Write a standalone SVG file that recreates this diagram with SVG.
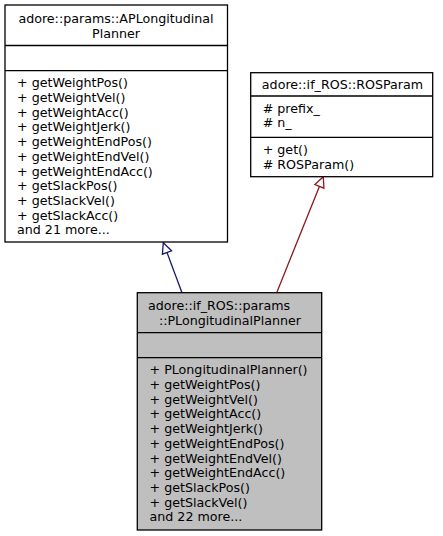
<svg xmlns="http://www.w3.org/2000/svg" width="443" height="536" viewBox="0 0 443 536">
<style>
text{font-family:"DejaVu Sans","Liberation Sans",sans-serif;font-size:12.67px;fill:#000}
.box{fill:#fff;stroke:#000;stroke-width:1.3}
.cur{fill:#bfbfbf;stroke:#000;stroke-width:1.3}
.sep{stroke:#000;stroke-width:1.3}
.c{text-anchor:middle}
.e1{fill:none;stroke:#191970;stroke-width:1.3}
.e1h{fill:#fff;stroke:#191970;stroke-width:1.3}
.e2{fill:none;stroke:#8b1a1a;stroke-width:1.3}
.e2h{fill:#fff;stroke:#8b1a1a;stroke-width:1.3}
</style>
<rect width="443" height="536" fill="#fff"/>
<g id="connectors">
<path class="e1" d="M182,292.7 L167,252.5"/>
<polygon class="e1h" points="163.3,242.7 171.6,250.8 162.4,254.2"/>
<path class="e2" d="M276.7,292.7 L319.4,186.4"/>
<polygon class="e2h" points="323.3,176.7 323.9,188.2 314.9,184.6"/>
</g>
<g id="node-APLongitudinalPlanner">
<rect class="box" x="5" y="5" width="222.5" height="237"/>
<line class="sep" x1="5" y1="45.5" x2="227.5" y2="45.5"/>
<line class="sep" x1="5" y1="70.7" x2="227.5" y2="70.7"/>
<text class="c" x="116" y="23.3">adore::params::APLongitudinal</text>
<text class="c" x="116" y="38">Planner</text>
<text x="17" y="87.3">+ getWeightPos()</text>
<text x="17" y="102">+ getWeightVel()</text>
<text x="17" y="116.7">+ getWeightAcc()</text>
<text x="17" y="131.4">+ getWeightJerk()</text>
<text x="17" y="146.1">+ getWeightEndPos()</text>
<text x="17" y="160.8">+ getWeightEndVel()</text>
<text x="17" y="175.5">+ getWeightEndAcc()</text>
<text x="17" y="190.2">+ getSlackPos()</text>
<text x="17" y="204.9">+ getSlackVel()</text>
<text x="17" y="219.6">+ getSlackAcc()</text>
<text x="17" y="234.3">and 21 more...</text>
</g>
<g id="node-ROSParam">
<rect class="box" x="250.7" y="72.7" width="182" height="104"/>
<line class="sep" x1="250.7" y1="96" x2="432.7" y2="96"/>
<line class="sep" x1="250.7" y1="137.3" x2="432.7" y2="137.3"/>
<text class="c" x="342.5" y="89">adore::if_ROS::ROSParam</text>
<text x="262.7" y="112.6"># prefix_</text>
<text x="262.7" y="127.3"># n_</text>
<text x="262.7" y="153.9">+ get()</text>
<text x="262.7" y="168.6"># ROSParam()</text>
</g>
<g id="node-PLongitudinalPlanner">
<rect class="cur" x="137.3" y="292.7" width="184.4" height="237.3"/>
<line class="sep" x1="137.3" y1="332.7" x2="321.7" y2="332.7"/>
<line class="sep" x1="137.3" y1="357.7" x2="321.7" y2="357.7"/>
<text x="148" y="309.8">adore::if_ROS::params</text>
<text class="c" x="230" y="324.5">::PLongitudinalPlanner</text>
<text x="149.5" y="374.3">+ PLongitudinalPlanner()</text>
<text x="149.5" y="389">+ getWeightPos()</text>
<text x="149.5" y="403.7">+ getWeightVel()</text>
<text x="149.5" y="418.4">+ getWeightAcc()</text>
<text x="149.5" y="433.1">+ getWeightJerk()</text>
<text x="149.5" y="447.8">+ getWeightEndPos()</text>
<text x="149.5" y="462.5">+ getWeightEndVel()</text>
<text x="149.5" y="477.2">+ getWeightEndAcc()</text>
<text x="149.5" y="491.9">+ getSlackPos()</text>
<text x="149.5" y="506.6">+ getSlackVel()</text>
<text x="149.5" y="521.3">and 22 more...</text>
</g>
</svg>
